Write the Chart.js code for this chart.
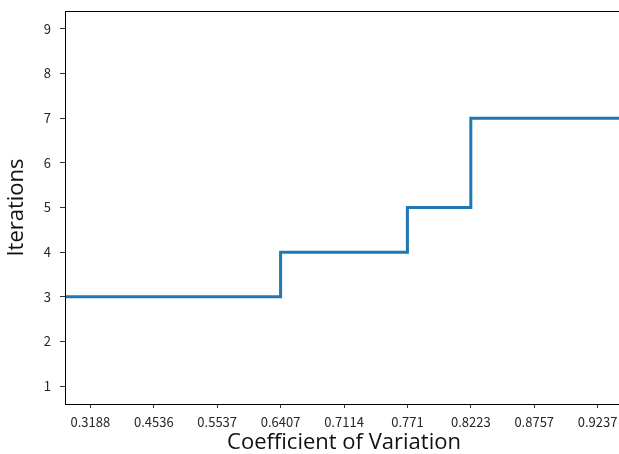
<!DOCTYPE html>
<html>
<head>
<meta charset="utf-8">
<script src="https://cdn.jsdelivr.net/npm/chart.js@4/dist/chart.umd.min.js"></script>
<style>
  html, body { margin: 0; padding: 0; background: #fff; overflow: hidden; }
  #wrap { width: 624px; height: 454px; }
</style>
</head>
<body>
<div id="wrap"><canvas id="chartCv" width="624" height="454"></canvas></div>
<script>
// valores
const cvLabels = ['0.3188', '0.4536', '0.5537', '0.6407', '0.7114', '0.771', '0.8223', '0.8757', '0.9237'];
const iterations = [3, 3, 3, 4, 4, 5, 7, 7, 7];
const yTicks = [1, 2, 3, 4, 5, 6, 7, 8, 9];

const X_MIN = -0.4, X_MAX = cvLabels.length - 1 + 0.4;
const Y_MIN = 0.6, Y_MAX = 9.4;

// pontos do degrau, estendidos ate as bordas do eixo
const pontos = [{ x: X_MIN, y: iterations[0] }]
    .concat(iterations.map((v, i) => ({ x: i, y: v })))
    .concat([{ x: X_MAX, y: iterations[iterations.length - 1] }]);

// moldura completa (como no matplotlib)
const moldura = {
    id: 'moldura',
    afterDraw: (chart) => {
        const a = chart.chartArea;
        const ctx = chart.ctx;
        ctx.save();
        ctx.strokeStyle = '#000';
        ctx.lineWidth = 1;
        ctx.strokeRect(Math.round(a.left) + 0.5, Math.round(a.top) + 0.5, Math.round(a.right - a.left), Math.round(a.bottom - a.top));
        ctx.restore();
    }
};

new Chart(document.getElementById('chartCv'), {
    type: 'line',
    data: {
        datasets: [{
            data: pontos,
            borderColor: '#1f77b4',
            borderWidth: 3,
            pointRadius: 0,
            stepped: true,
            fill: false
        }]
    },
    options: {
        responsive: false,
        animation: false,
        layout: { padding: { top: 11, right: 1, left: 0, bottom: 0 } },
        plugins: { legend: { display: false }, tooltip: { enabled: false } },
        scales: {
            x: {
                type: 'linear',
                min: X_MIN,
                max: X_MAX,
                afterBuildTicks: (s) => { s.ticks = cvLabels.map((_, i) => ({ value: i })); },
                afterFit: (s) => { s.height = 50; s.paddingLeft = 0; s.paddingRight = 0; },
                ticks: {
                    autoSkip: false,
                    maxRotation: 0,
                    padding: 6,
                    color: '#262626',
                    font: { family: 'Noto Sans CJK SC', size: 13 },
                    callback: (v) => cvLabels[v]
                },
                grid: { drawOnChartArea: false, drawTicks: true, tickLength: 4, color: '#333' },
                border: { display: false },
                title: {
                    display: true,
                    text: 'Coefficient of Variation',
                    color: '#111',
                    font: { family: 'Open Sans', size: 22, lineHeight: 1 },
                    padding: { top: 0, bottom: 0 }
                }
            },
            y: {
                min: Y_MIN,
                max: Y_MAX,
                afterBuildTicks: (s) => { s.ticks = yTicks.map(v => ({ value: v })); },
                afterFit: (s) => { s.width = 65; s.paddingTop = 0; s.paddingBottom = 0; },
                ticks: {
                    padding: 9,
                    color: '#262626',
                    font: { family: 'Noto Sans CJK SC', size: 13 }
                },
                grid: { drawOnChartArea: false, drawTicks: true, tickLength: 5, color: '#333' },
                border: { display: false },
                title: {
                    display: true,
                    text: 'Iterations',
                    color: '#111',
                    font: { family: 'Open Sans', size: 22, lineHeight: 1 },
                    padding: { top: 6, bottom: 0 }
                }
            }
        }
    },
    plugins: [moldura]
});
</script>
</body>
</html>
